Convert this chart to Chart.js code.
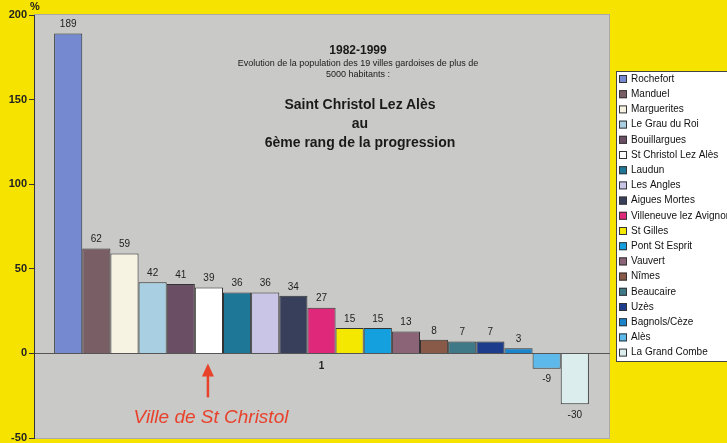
<!DOCTYPE html>
<html>
<head>
<meta charset="utf-8">
<script src="https://cdn.jsdelivr.net/npm/chart.js@4"></script>
<style>
  body { margin: 0; background: #f6e400; }
  #wrap { position: relative; width: 727px; height: 443px; overflow: hidden; font-family: Arial, "Liberation Sans", sans-serif; }
  canvas { position: absolute; left: 0; top: 0; }
  .t { position: absolute; text-align: center; color: #1a1a1a; white-space: nowrap; }
</style>
</head>
<body>
<div id="wrap">
  <canvas id="chart" width="727" height="443"></canvas>
  <div class="t" style="left:30px;top:0px;font-size:11px;font-weight:bold;">%</div>
  <div class="t" style="left:200px;width:316px;top:43px;font-size:12px;font-weight:bold;">1982-1999</div>
  <div class="t" style="left:200px;width:316px;top:58px;font-size:9px;line-height:11px;">Evolution de la population des 19 villes gardoises de plus de<br>5000 habitants :</div>
  <div class="t" style="left:200px;width:320px;top:95px;font-size:14px;font-weight:bold;line-height:19px;">Saint Christol Lez Alès<br>au<br>6ème rang de la progression</div>
  <div class="t" style="left:109px;width:204px;top:406px;font-size:19px;font-style:italic;color:#e8412c;">Ville de St Christol</div>
</div>
<script>
const categories = ["1"];
const villes = [
    "Rochefort", "Manduel", "Marguerites", "Le Grau du Roi", "Bouillargues",
    "St Christol Lez Alès", "Laudun", "Les Angles", "Aigues Mortes", "Villeneuve lez Avignon",
    "St Gilles", "Pont St Esprit", "Vauvert", "Nîmes", "Beaucaire",
    "Uzès", "Bagnols/Cèze", "Alès", "La Grand Combe"
];
const evolution = [189, 62, 59, 42, 41, 39, 36, 36, 34, 27, 15, 15, 13, 8, 7, 7, 3, -9, -30];
const couleurs = [
    "#7489cf", "#7a5e66", "#f7f3e2", "#a8cfe2", "#6a4e63",
    "#ffffff", "#1f7797", "#c9c5e6", "#383f5a", "#e0287b",
    "#f5e800", "#14a0de", "#8b6478", "#8a5a48", "#3f7987",
    "#1d3c8c", "#1a85cb", "#5cb9ea", "#dbeded"
];
const yTicks = [-50, 0, 50, 100, 150, 200];

/* fond gris de la zone de tracé */
const plotBg = {
    id: "plotBg",
    beforeDraw(chart) {
        const { ctx, chartArea: a } = chart;
        ctx.save();
        ctx.fillStyle = "#c9c9c7";
        ctx.fillRect(a.left, a.top, a.right - a.left, a.bottom - a.top);
        ctx.strokeStyle = "#a9a9a6";
        ctx.lineWidth = 1;
        ctx.strokeRect(a.left + 0.5, a.top - 0.5, a.right - a.left, a.bottom - a.top + 1);
        ctx.restore();
    }
};

/* valeurs au-dessus / en dessous des barres */
const valeurs = {
    id: "valeurs",
    afterDatasetsDraw(chart) {
        const ctx = chart.ctx;
        ctx.save();
        ctx.font = "10px Arial";
        ctx.fillStyle = "#222";
        ctx.textAlign = "center";
        chart.data.datasets.forEach((ds, i) => {
            const bar = chart.getDatasetMeta(i).data[0];
            const v = ds.data[0];
            if (v >= 0) {
                ctx.textBaseline = "bottom";
                ctx.fillText(v, bar.x, bar.y - 4);
            } else {
                ctx.textBaseline = "top";
                ctx.fillText(v, bar.x, bar.y + 6);
            }
        });
        ctx.restore();
    }
};

/* légende à droite, façon Excel */
const legende = {
    id: "legende",
    afterDraw(chart) {
        const ctx = chart.ctx;
        const x0 = 616, y0 = 71, h = 290, step = 15.2;
        ctx.save();
        ctx.fillStyle = "#ffffff";
        ctx.fillRect(x0, y0, 130, h);
        ctx.strokeStyle = "#444";
        ctx.lineWidth = 1;
        ctx.strokeRect(x0 + 0.5, y0 + 0.5, 130, h);
        ctx.font = "10px Arial";
        ctx.textBaseline = "middle";
        chart.data.datasets.forEach((ds, i) => {
            const y = y0 + 8 + i * step;
            ctx.fillStyle = ds.backgroundColor;
            ctx.fillRect(x0 + 3, y - 4, 8, 8);
            ctx.strokeStyle = "#333";
            ctx.strokeRect(x0 + 3.5, y - 3.5, 7, 7);
            ctx.fillStyle = "#111";
            ctx.fillText(ds.label, x0 + 15, y);
        });
        ctx.restore();
    }
};

/* flèche rouge vers St Christol */
const fleche = {
    id: "fleche",
    afterDraw(chart) {
        const ctx = chart.ctx;
        const bar = chart.getDatasetMeta(5).data[0];
        const x = bar.x - 1;
        const y0 = chart.scales.y.getPixelForValue(0);
        ctx.save();
        ctx.strokeStyle = "#e8412c";
        ctx.fillStyle = "#e8412c";
        ctx.lineWidth = 2.5;
        ctx.beginPath();
        ctx.moveTo(x, y0 + 20);
        ctx.lineTo(x, y0 + 44);
        ctx.stroke();
        ctx.beginPath();
        ctx.moveTo(x, y0 + 10);
        ctx.lineTo(x - 6, y0 + 23);
        ctx.lineTo(x + 6, y0 + 23);
        ctx.closePath();
        ctx.fill();
        ctx.restore();
    }
};

new Chart(document.getElementById("chart"), {
    type: "bar",
    data: {
        labels: categories,
        datasets: villes.map((nom, i) => ({
            label: nom,
            data: [evolution[i]],
            backgroundColor: couleurs[i],
            borderColor: "#333",
            borderWidth: 1
        }))
    },
    options: {
        responsive: false,
        animation: false,
        categoryPercentage: 0.93,
        barPercentage: 1,
        layout: { padding: { top: 15, right: 118, bottom: 5, left: 0 } },
        scales: {
            x: {
                position: { y: 0 },
                afterFit(scale) { scale.paddingLeft = 0; scale.paddingRight = 0; },
                grid: { display: true, drawOnChartArea: false, drawTicks: false },
                border: { display: true, color: "#555", width: 1 },
                ticks: { font: { family: "Arial", size: 10, weight: "bold" }, color: "#222", padding: 7 }
            },
            y: {
                min: -50,
                max: 200,
                afterFit(scale) {
                    scale.width = 34;
                    scale.paddingTop = 0;
                    scale.paddingBottom = 0;
                },
                afterBuildTicks(scale) { scale.ticks = yTicks.map(v => ({ value: v })); },
                grid: { drawOnChartArea: false, tickLength: 5, color: "#333" },
                border: { display: true, color: "#333", width: 1 },
                ticks: { font: { family: "Arial", size: 11, weight: "bold" }, color: "#222", padding: 2 }
            }
        },
        plugins: {
            legend: { display: false },
            tooltip: { enabled: false }
        }
    },
    plugins: [plotBg, valeurs, legende, fleche]
});
</script>
</body>
</html>
